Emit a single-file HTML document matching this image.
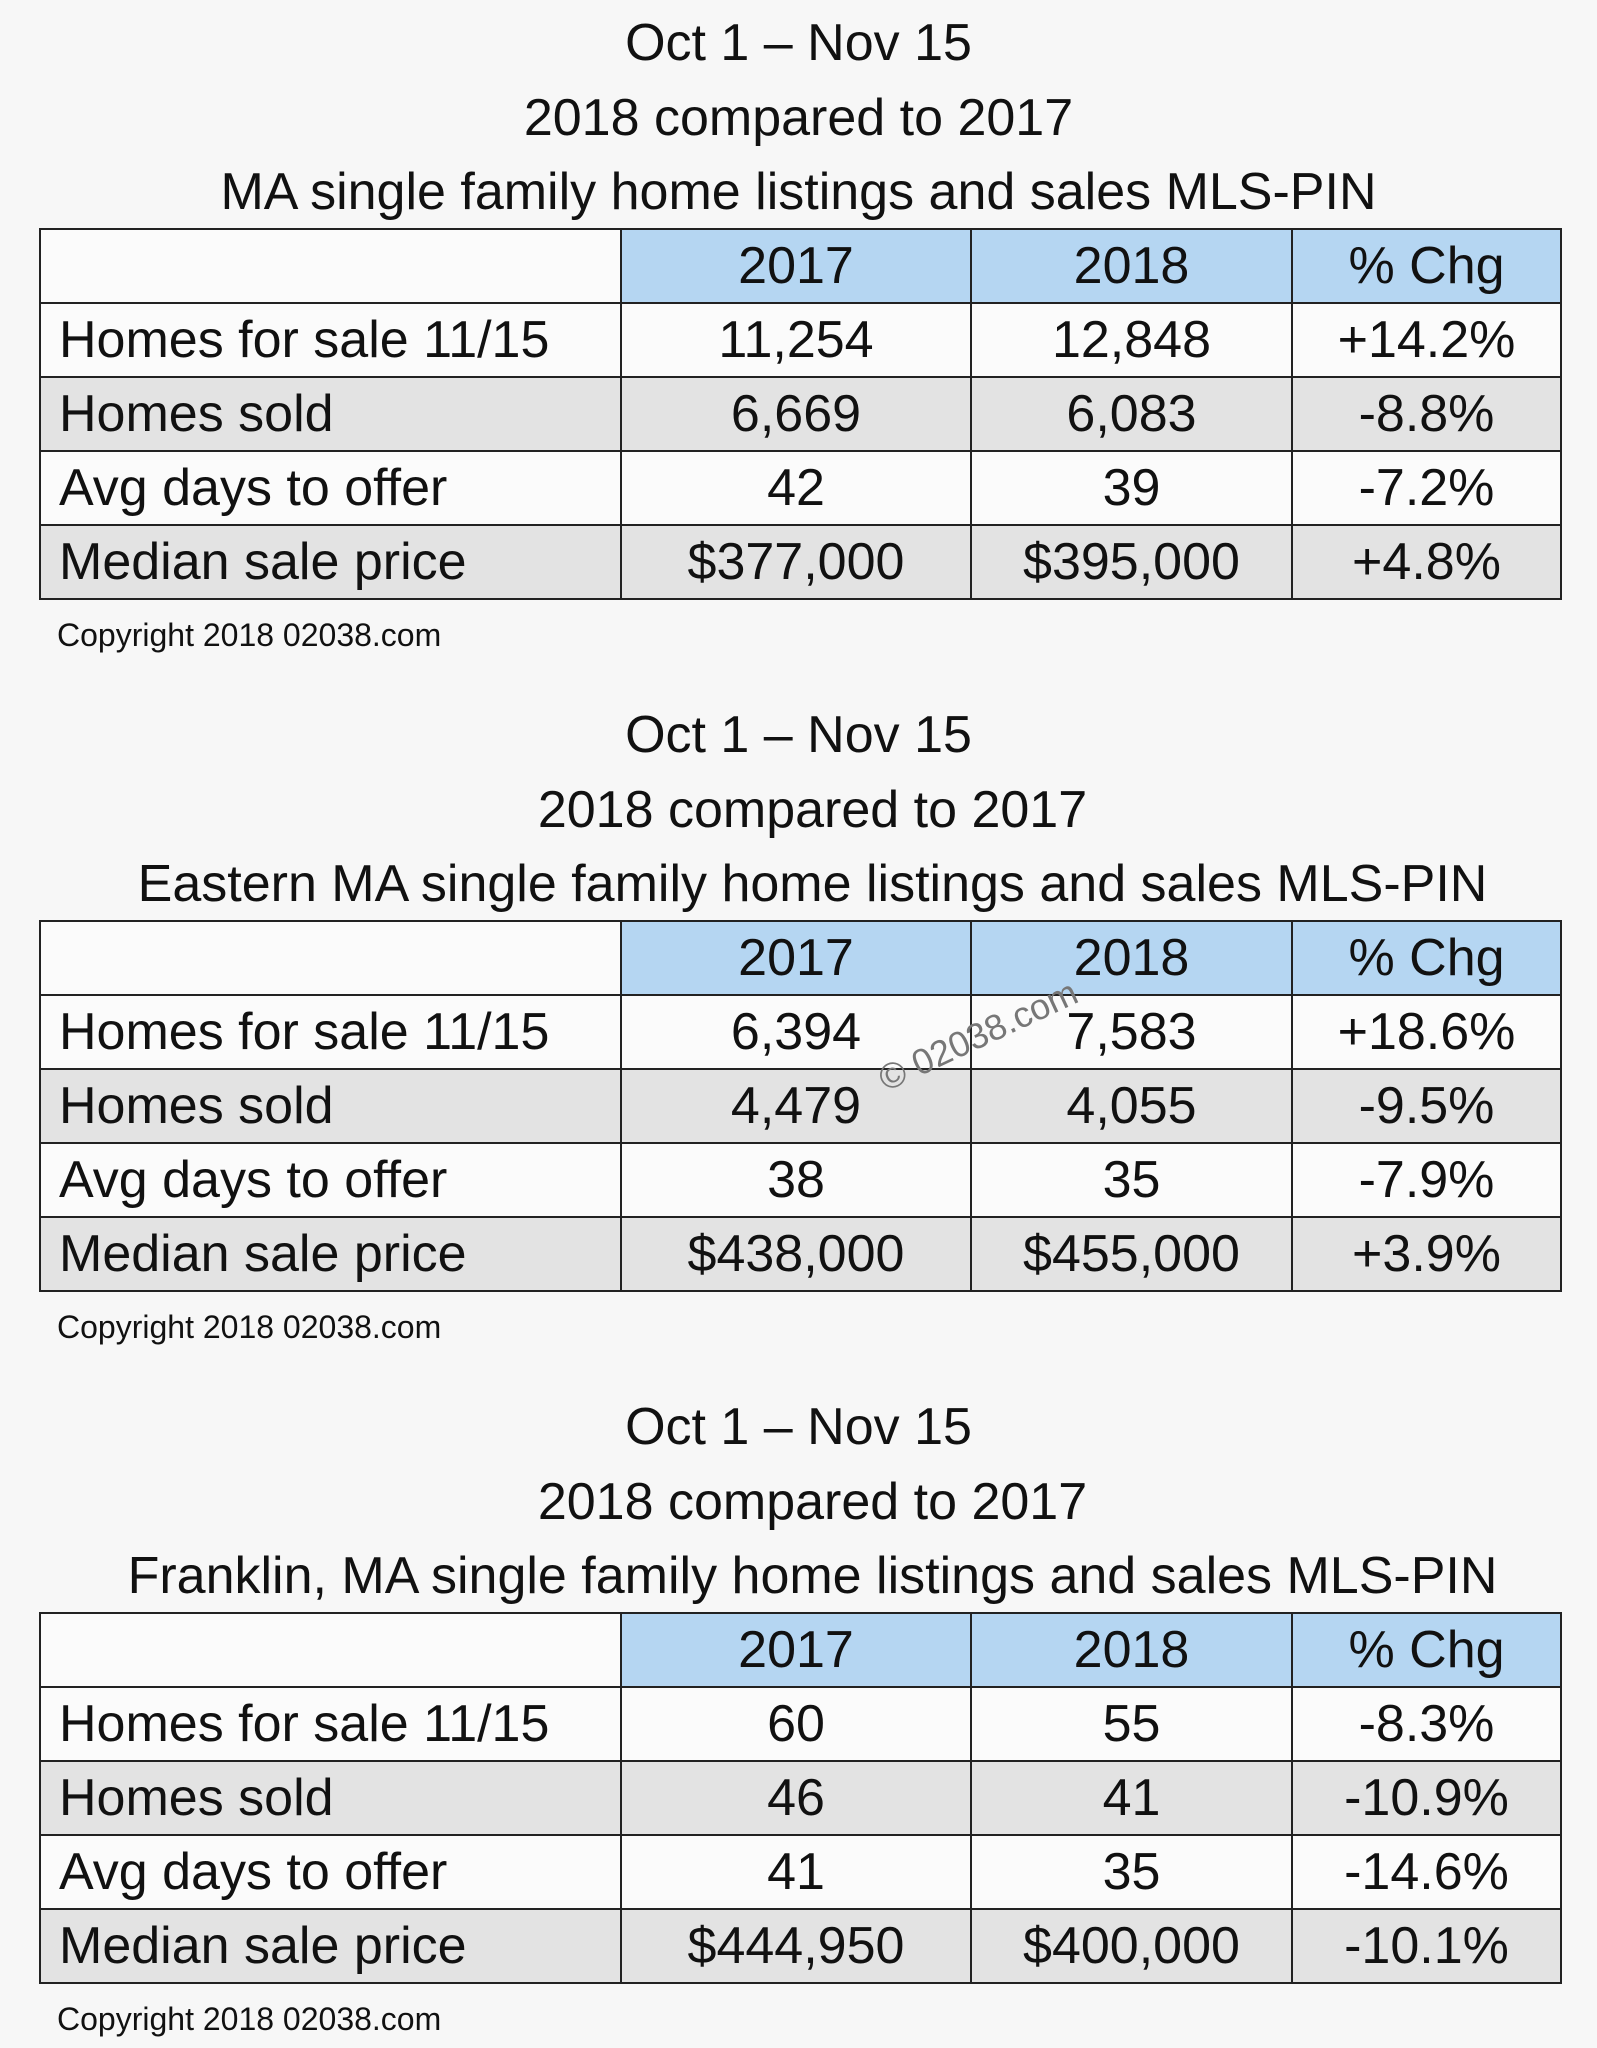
<!DOCTYPE html>
<html><head><meta charset="utf-8">
<style>
html,body{margin:0;padding:0}
body{width:1597px;height:2048px;background:#f7f7f7;position:relative;overflow:hidden;font-family:"Liberation Sans",Arial,sans-serif;color:#111}
.t{position:absolute;left:0;width:1597px;text-align:center;font-size:52px;line-height:60px;white-space:nowrap}
.sec{position:absolute;left:0;top:0}
table{position:absolute;left:39px;border-collapse:collapse;font-size:52px}
td{border:2px solid #222;height:72px;padding:0;text-align:center;line-height:72px;white-space:nowrap}
td.l{text-align:left;padding-left:18px}
tr.h td.y{background:#b5d6f2}
tr.h td.e{background:#fbfbfb}
tr.w td{background:#fbfbfb}
tr.g td{background:#e3e3e3}
.c{position:absolute;left:57px;font-size:32px;line-height:40px}
.wm{position:absolute;left:872px;top:1016px;font-size:36px;color:#777;transform:rotate(-25deg);transform-origin:left top;white-space:nowrap}
</style></head>
<body>

<div>
<div class="t" style="top:13px">Oct 1 – Nov 15</div>
<div class="t" style="top:88px">2018 compared to 2017</div>
<div class="t" style="top:162px">MA single family home listings and sales MLS-PIN</div>
<table style="top:228px">
<colgroup><col style="width:581px"><col style="width:350px"><col style="width:321px"><col style="width:269px"></colgroup>
<tr class="h"><td class="e"></td><td class="y">2017</td><td class="y">2018</td><td class="y">% Chg</td></tr>
<tr class="w"><td class="l">Homes for sale 11/15</td><td>11,254</td><td>12,848</td><td>+14.2%</td></tr>
<tr class="g"><td class="l">Homes sold</td><td>6,669</td><td>6,083</td><td>-8.8%</td></tr>
<tr class="w"><td class="l">Avg days to offer</td><td>42</td><td>39</td><td>-7.2%</td></tr>
<tr class="g"><td class="l">Median sale price</td><td>$377,000</td><td>$395,000</td><td>+4.8%</td></tr>
</table>
<div class="c" style="top:615px">Copyright 2018 02038.com</div>
</div>

<div>
<div class="t" style="top:705px">Oct 1 – Nov 15</div>
<div class="t" style="top:780px;left:14px">2018 compared to 2017</div>
<div class="t" style="top:854px;left:14px">Eastern MA single family home listings and sales MLS-PIN</div>
<table style="top:920px">
<colgroup><col style="width:581px"><col style="width:350px"><col style="width:321px"><col style="width:269px"></colgroup>
<tr class="h"><td class="e"></td><td class="y">2017</td><td class="y">2018</td><td class="y">% Chg</td></tr>
<tr class="w"><td class="l">Homes for sale 11/15</td><td>6,394</td><td>7,583</td><td>+18.6%</td></tr>
<tr class="g"><td class="l">Homes sold</td><td>4,479</td><td>4,055</td><td>-9.5%</td></tr>
<tr class="w"><td class="l">Avg days to offer</td><td>38</td><td>35</td><td>-7.9%</td></tr>
<tr class="g"><td class="l">Median sale price</td><td>$438,000</td><td>$455,000</td><td>+3.9%</td></tr>
</table>
<div class="wm" style="top:1062px">© 02038.com</div>
<div class="c" style="top:1307px">Copyright 2018 02038.com</div>
</div>

<div>
<div class="t" style="top:1397px">Oct 1 – Nov 15</div>
<div class="t" style="top:1472px;left:14px">2018 compared to 2017</div>
<div class="t" style="top:1546px;left:14px">Franklin, MA single family home listings and sales MLS-PIN</div>
<table style="top:1612px">
<colgroup><col style="width:581px"><col style="width:350px"><col style="width:321px"><col style="width:269px"></colgroup>
<tr class="h"><td class="e"></td><td class="y">2017</td><td class="y">2018</td><td class="y">% Chg</td></tr>
<tr class="w"><td class="l">Homes for sale 11/15</td><td>60</td><td>55</td><td>-8.3%</td></tr>
<tr class="g"><td class="l">Homes sold</td><td>46</td><td>41</td><td>-10.9%</td></tr>
<tr class="w"><td class="l">Avg days to offer</td><td>41</td><td>35</td><td>-14.6%</td></tr>
<tr class="g"><td class="l">Median sale price</td><td>$444,950</td><td>$400,000</td><td>-10.1%</td></tr>
</table>
<div class="c" style="top:1999px">Copyright 2018 02038.com</div>
</div>

</body></html>
